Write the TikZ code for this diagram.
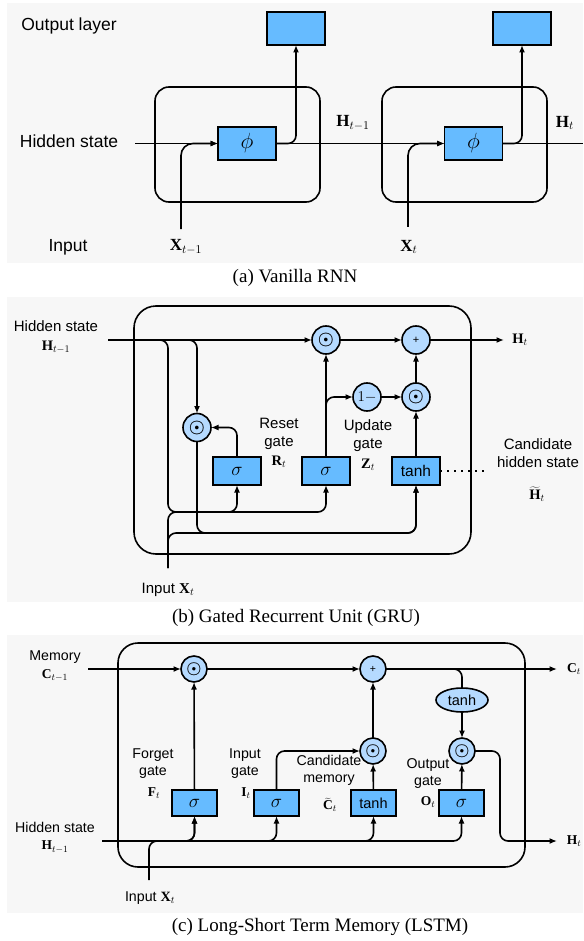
\documentclass[tikz,border=0pt]{standalone}
\usepackage{fix-cm}
\usepackage{fontspec}
\setmainfont{Liberation Serif}
\newfontfamily\lblfont{Liberation Sans}
\usetikzlibrary{arrows.meta,shapes.geometric}
\definecolor{boxblue}{HTML}{66BBFF}
\definecolor{opblue}{HTML}{B5DAFF}
\definecolor{panelgray}{HTML}{F7F7F7}
\newcommand{\dotop}{{\boldmath$\odot$}}

\begin{document}
\begin{tikzpicture}[x=1pt,y=-1pt,line width=1.6pt,>={Latex[length=7.5pt,width=6pt]},
  every node/.style={inner sep=0pt,outer sep=0pt},
  abox/.style={draw,fill=boxblue,minimum width=58pt,minimum height=33pt,font=\fontsize{22}{22}\selectfont},
  bbox/.style={draw,fill=boxblue,minimum width=48pt,minimum height=28pt,font=\lblfont\fontsize{15.5}{15.5}\selectfont},
  cbox/.style={draw,fill=boxblue,minimum width=45pt,minimum height=26pt,font=\lblfont\fontsize{14.5}{14.5}\selectfont},
  bop/.style={draw,fill=opblue,circle,minimum size=28pt,font=\fontsize{18}{18}\selectfont},
  cop/.style={draw,fill=opblue,circle,minimum size=26pt,font=\fontsize{17}{17}\selectfont},
  alab/.style={font=\lblfont\fontsize{17.5}{21}\selectfont,align=center},
  blab/.style={font=\lblfont\fontsize{15}{18}\selectfont,align=center},
  clab/.style={font=\lblfont\fontsize{14.2}{17}\selectfont,align=center},
  amath/.style={font=\fontsize{17}{17}\selectfont},
  bmath/.style={font=\fontsize{14.5}{14.5}\selectfont},
  cmath/.style={font=\fontsize{13.5}{13.5}\selectfont},
  sig/.style={font=\fontsize{19}{19}\selectfont},
  capt/.style={font=\fontsize{19}{22}\selectfont}]
  \useasboundingbox (0,0) rectangle (583,941);

  % (a) vanilla RNN
  \fill[panelgray] (7,3) rectangle (583,263);
  \draw[rounded corners=14pt] (155,87) rectangle (320,202);
  \draw[rounded corners=14pt] (382,87) rectangle (547,202);
  \node[alab] (outl) at (69,26) {Output layer};
  \node[alab] (hidl) at (69,141) {Hidden state};
  \node[alab] (inl) at (68,247) {Input};
  \node[abox] (out1) at (296,28.5) {};
  \node[abox] (out2) at (522,28.5) {};
  \node[abox] (phi1) at (247,143.5) {$\phi$};
  \node[abox] (phi2) at (473.5,143.5) {$\phi$};
  \node[amath] (hprv) at (353,123) {$\mathbf{H}_{t-1}$};
  \node[amath] (hcur) at (565,123) {$\mathbf{H}_t$};
  \node[amath] (xprv) at (186,247) {$\mathbf{X}_{t-1}$};
  \node[amath] (xcur) at (409,247) {$\mathbf{X}_t$};
  \coordinate (hin) at (135,143.5);
  \coordinate (hend) at (583,143.5);
  \coordinate (x1) at (181,229);
  \coordinate (x2) at (408,227);
  \draw[->] (hin) -- (phi1);
  \draw[->,rounded corners=12pt] (x1) |- (phi1.west);
  \draw[->] (phi1) -- (phi2);
  \draw[->,rounded corners=8pt] (phi1.east) -| (out1.south);
  \draw[->,rounded corners=12pt] (x2) |- (phi2.west);
  \draw (phi2) -- (hend);
  \draw[->,rounded corners=8pt] (phi2.east) -| (out2.south);
  \node[capt] (capa) at (295,278) {(a) Vanilla RNN};

  % (b) GRU
  \fill[panelgray] (7,297) rectangle (583,602);
  \draw[rounded corners=22pt] (134,306) rectangle (471,554);
  \node[blab] (ghid) at (56,326) {Hidden state};
  \node[bmath] (ghprv) at (56,347) {$\mathbf{H}_{t-1}$};
  \node[bop] (rh) at (326,340) {\dotop};
  \node[bop] (add) at (416,340) {\lblfont\fontsize{11}{11}\selectfont +};
  \node[bop] (rst) at (197,427.5) {\dotop};
  \node[bop,font=\fontsize{15}{15}\selectfont] (one) at (367,397) {$1-$};
  \node[bop] (zm) at (416,397) {\dotop};
  \node[bbox,sig] (sr) at (237,471) {$\sigma$};
  \node[bbox,sig] (sz) at (326,471) {$\sigma$};
  \node[bbox] (th) at (416,471) {tanh};
  \node[bmath] (ght) at (520,340) {$\mathbf{H}_t$};
  \node[blab] (rlab) at (279,434) {Reset\\gate};
  \node[bmath] (rt) at (279,462) {$\mathbf{R}_t$};
  \node[blab] (zlab) at (368,436) {Update\\gate};
  \node[bmath] (zt) at (368,465) {$\mathbf{Z}_t$};
  \node[blab] (clab) at (538,453) {Candidate\\hidden state};
  \node[bmath] (htil) at (537,494) {$\widetilde{\mathbf{H}}_t$};
  \node[blab] (gin) at (168,590) {Input $\mathbf{X}_t$};
  \coordinate (gh) at (108,340);
  \coordinate (gho) at (504,340);
  \coordinate (gl) at (168,512);
  \coordinate (gl2) at (168,533);
  \coordinate (gx) at (168,568);
  \coordinate (gdot) at (485,471);
  \draw[->] (gh) -- (rh);
  \draw[->] (rh) -- (add);
  \draw[->] (add) -- (gho);
  \draw[->,rounded corners=8pt] (gh) -| (rst.north);
  \draw[->,rounded corners=8pt] (gh) -| (gl) -| (sz.south);
  \draw[->,rounded corners=8pt] (gx) -- (gl) -| (sr.south);
  \draw[->,rounded corners=8pt] (gx) -- (gl2) -| (th.south);
  \draw[->,rounded corners=8pt] (rst.south) |- (gl2 -| th.south) -- (th.south);
  \draw[->,rounded corners=8pt] (sr.north) |- (rst.east);
  \draw[->] (sz) -- (rh);
  \draw[->,rounded corners=8pt] (sz.north) |- (one.west);
  \draw[->] (one) -- (zm);
  \draw[->] (zm) -- (add);
  \draw[->] (th) -- (zm);
  \draw[dash pattern=on 2pt off 5pt] (th) -- (gdot);
  \node[capt] (capb) at (296,618) {(b) Gated Recurrent Unit (GRU)};

  % (c) LSTM
  \fill[panelgray] (7,635) rectangle (583,913);
  \draw[rounded corners=20pt] (118,643) rectangle (525,867);
  \node[clab] (mem) at (55,657) {Memory};
  \node[cmath] (cprv) at (55,675) {$\mathbf{C}_{t-1}$};
  \node[clab] (lhid) at (55,827) {Hidden state};
  \node[cmath] (lhprv) at (55,847) {$\mathbf{H}_{t-1}$};
  \node[cop] (fm) at (194,669) {\dotop};
  \node[cop] (cadd) at (373,669) {\lblfont\fontsize{10.5}{10.5}\selectfont +};
  \node[draw,fill=opblue,ellipse,minimum width=52pt,minimum height=24pt,font=\lblfont\fontsize{14.5}{14.5}\selectfont] (tc) at (462,700) {tanh};
  \node[cop] (im) at (373,751) {\dotop};
  \node[cop] (om) at (462,751) {\dotop};
  \node[cbox,sig] (sf) at (194.5,803) {$\sigma$};
  \node[cbox,sig] (si) at (276.5,803) {$\sigma$};
  \node[cbox] (tk) at (373.5,803) {tanh};
  \node[cbox,sig] (so) at (461.5,803) {$\sigma$};
  \node[cmath] (ccur) at (574,669) {$\mathbf{C}_t$};
  \node[cmath] (lhcur) at (574,841) {$\mathbf{H}_t$};
  \node[clab] (flab) at (153,764) {Forget\\gate};
  \node[cmath] (ft) at (154,793) {$\mathbf{F}_t$};
  \node[clab] (ilab) at (245,764) {Input\\gate};
  \node[cmath] (it) at (246,793) {$\mathbf{I}_t$};
  \node[clab] (mlab) at (329,770) {Candidate\\memory};
  \node[cmath] (ctil) at (330,805) {$\widetilde{\mathbf{C}}_t$};
  \node[clab] (olab) at (428,774) {Output\\gate};
  \node[cmath] (ot) at (428,802) {$\mathbf{O}_t$};
  \node[clab] (lin) at (150,898) {Input $\mathbf{X}_t$};
  \coordinate (cin) at (88,669);
  \coordinate (cout) at (557,669);
  \coordinate (lh) at (102,841);
  \coordinate (lho) at (557,841);
  \coordinate (lturn) at (500,841);
  \coordinate (lx) at (149,880);
  \draw[->] (cin) -- (fm);
  \draw[->] (fm) -- (cadd);
  \draw[->] (cadd) -- (cout);
  \draw[rounded corners=8pt] (cadd.east) -| (tc.north);
  \draw[->] (tc) -- (om);
  \draw[->] (sf) -- (fm);
  \draw[->,rounded corners=8pt] (si.north) |- (im.west);
  \draw[->] (tk) -- (im);
  \draw[->] (im) -- (cadd);
  \draw[->] (so) -- (om);
  \draw[->,rounded corners=8pt] (om.east) -| (lturn) -- (lho);
  \draw[->,rounded corners=8pt] (lh) -| (sf.south);
  \draw[->,rounded corners=8pt] (lh) -| (si.south);
  \draw[->,rounded corners=8pt] (lh) -| (tk.south);
  \draw[->,rounded corners=8pt] (lh) -| (so.south);
  \draw[->,rounded corners=8pt] (lx) |- (lh -| sf.south) -- (sf.south);
  \node[capt] (capc) at (320,927) {(c) Long-Short Term Memory (LSTM)};
\end{tikzpicture}
\end{document}
